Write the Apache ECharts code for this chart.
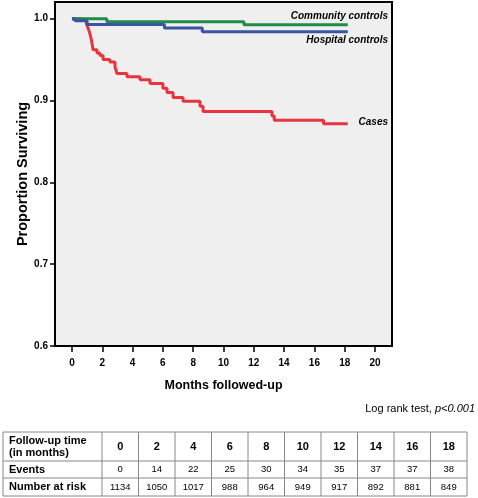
<!DOCTYPE html>
<html><head><meta charset="utf-8">
<script src="https://cdn.jsdelivr.net/npm/echarts@6/dist/echarts.min.js"></script>
<style>html,body{margin:0;padding:0;background:#fff}#c{width:478px;height:498px}</style>
</head><body><div id="c"></div>
<script>
// ---- data ----
var commT = [0, 2.3, 11.35, 18.2];
var commS = [1.0, 0.9964, 0.9927, 0.9927];
var hospT = [0, 0.2, 1.0, 6.1, 8.6, 18.2];
var hospS = [1.0, 0.9975, 0.993, 0.9885, 0.984, 0.984];
var caseT = [0, 0.6, 0.95, 1.05, 1.15, 1.25, 1.32, 1.39, 1.65, 1.85, 2.05, 2.5, 2.84, 2.97, 3.63, 4.49, 5.15, 6.0, 6.27, 6.67, 7.33, 8.45, 8.65, 13.2, 13.35, 16.6, 18.2];
var caseS = [1.0, 0.998, 0.994, 0.989, 0.984, 0.977, 0.97, 0.962, 0.958, 0.955, 0.95, 0.947, 0.941, 0.933, 0.929, 0.9255, 0.9207, 0.915, 0.9097, 0.9036, 0.899, 0.893, 0.8866, 0.881, 0.876, 0.8717, 0.8717];
var xTicks = [0, 2, 4, 6, 8, 10, 12, 14, 16, 18, 20];
var yTicks = [0.6, 0.7, 0.8, 0.9, 1.0];
var tablePoints = [0, 2, 4, 6, 8, 10, 12, 14, 16, 18];
var tableEvents = [0, 14, 22, 25, 30, 34, 35, 37, 37, 38];
var tableAtRisk = [1134, 1050, 1017, 988, 964, 949, 917, 892, 881, 849];

function pairs(t, s) { return t.map(function (v, i) { return [v, s[i]]; }); }

var FONT = '"Liberation Sans", Arial, sans-serif';
var chart = echarts.init(document.getElementById('c'), null, { renderer: 'canvas' });

// ---- table graphics ----
var g = [];
var tLeft = 3, tFirst = 102, colW = 36.5;
var rowY = [432, 461, 478, 496];
var tRight = tFirst + colW * tablePoints.length;
rowY.forEach(function (y) {
  g.push({ type: 'line', shape: { x1: tLeft, y1: y, x2: tRight, y2: y }, style: { stroke: '#888', lineWidth: 1 } });
});
var vx = [tLeft, tFirst];
for (var i = 1; i <= tablePoints.length; i++) vx.push(tFirst + colW * i);
vx.forEach(function (x) {
  g.push({ type: 'line', shape: { x1: x, y1: rowY[0], x2: x, y2: rowY[3] }, style: { stroke: '#888', lineWidth: 1 } });
});
function txt(t, x, y, font, align) {
  g.push({ type: 'text', x: x, y: y, style: { text: t, font: font, fill: '#000', textAlign: align || 'left', textVerticalAlign: 'middle' } });
}
var hy = (rowY[0] + rowY[1]) / 2, ey = (rowY[1] + rowY[2]) / 2, ny = (rowY[2] + rowY[3]) / 2;
txt('Follow-up time', 9, hy - 5.5, 'bold 11px ' + FONT);
txt('(in months)', 9, hy + 6, 'bold 11px ' + FONT);
txt('Events', 9, ey, 'bold 11px ' + FONT);
txt('Number at risk', 9, ny, 'bold 11px ' + FONT);
tablePoints.forEach(function (p, i) {
  var cx = tFirst + colW * (i + 0.5);
  txt(String(p), cx, hy, 'bold 11px ' + FONT, 'center');
  txt(String(tableEvents[i]), cx, ey, '9.5px ' + FONT, 'center');
  txt(String(tableAtRisk[i]), cx, ny, '9.5px ' + FONT, 'center');
});
g.push({ type: 'text', x: 475, y: 409, style: {
  text: '{n|Log rank test, }{i|p<0.001}', textAlign: 'right', textVerticalAlign: 'middle',
  rich: { n: { font: '11px ' + FONT, fill: '#000' }, i: { font: 'italic 11px ' + FONT, fill: '#000' } }
} });
var lf = 'italic bold 10px ' + FONT;
g.push({ type: 'text', x: 388, y: 16, z: 10, style: { text: 'Community controls', font: lf, fill: '#000', textAlign: 'right', textVerticalAlign: 'middle' } });
g.push({ type: 'text', x: 388, y: 40, z: 10, style: { text: 'Hospital controls', font: lf, fill: '#000', textAlign: 'right', textVerticalAlign: 'middle' } });
g.push({ type: 'text', x: 388, y: 122, z: 10, style: { text: 'Cases', font: lf, fill: '#000', textAlign: 'right', textVerticalAlign: 'middle' } });

var option = {
  animation: false,
  backgroundColor: '#fff',
  grid: { left: 55, top: 2, width: 337, height: 344, show: true, backgroundColor: '#efefef', borderColor: '#000', borderWidth: 2 },
  xAxis: {
    type: 'value', min: -1.12, max: 21.12,
    axisLine: { show: false, onZero: false },
    splitLine: { show: false },
    axisTick: { show: true, customValues: xTicks, length: 6, lineStyle: { color: '#000', width: 1.5 } },
    axisLabel: { customValues: xTicks, margin: 12, color: '#000', fontWeight: 'bold', fontSize: 10, fontFamily: FONT },
    name: 'Months followed-up', nameLocation: 'middle', nameGap: 33, nameMoveOverlap: false,
    nameTextStyle: { color: '#000', fontWeight: 'bold', fontSize: 12.5, fontFamily: FONT }
  },
  yAxis: {
    type: 'value', min: 0.6, max: 1.0204,
    axisLine: { show: false, onZero: false },
    splitLine: { show: false },
    axisTick: { show: true, customValues: yTicks, length: 5, lineStyle: { color: '#000', width: 1.5 } },
    axisLabel: { customValues: yTicks, margin: 7, color: '#000', fontWeight: 'bold', fontSize: 10, fontFamily: FONT,
      formatter: function (v) { return v.toFixed(1); } },
    name: 'Proportion Surviving', nameLocation: 'middle', nameGap: 25, nameRotate: 90, nameMoveOverlap: false,
    nameTextStyle: { color: '#000', fontWeight: 'bold', fontSize: 14.5, fontFamily: FONT }
  },
  series: [
    { name: 'Cases', type: 'line', step: 'end', showSymbol: false, z: 2, data: pairs(caseT, caseS), lineStyle: { color: '#e8343e', width: 3 } },
    { name: 'Community controls', type: 'line', step: 'end', showSymbol: false, z: 3, data: pairs(commT, commS), lineStyle: { color: '#1f8c48', width: 3 } },
    { name: 'Hospital controls', type: 'line', step: 'end', showSymbol: false, z: 4, data: pairs(hospT, hospS), lineStyle: { color: '#3a53a4', width: 3 } }
  ],
  graphic: g
};
chart.setOption(option);
</script>
</body></html>
